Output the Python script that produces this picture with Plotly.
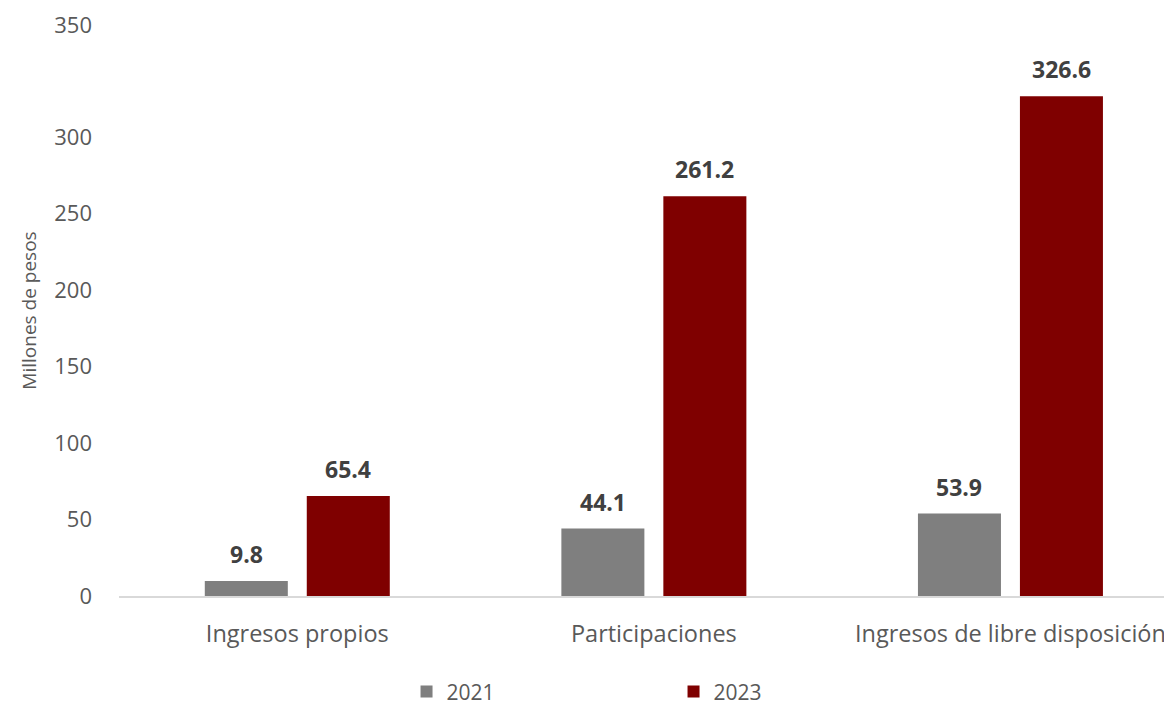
import plotly.graph_objects as go

categories = ["Ingresos propios", "Participaciones", "Ingresos de libre disposición"]
series_names = ["2021", "2023"]
values_2021 = [9.8, 44.1, 53.9]
values_2023 = [65.4, 261.2, 326.6]
y_tick_values = [0, 50, 100, 150, 200, 250, 300]
y_tick_labels = ["0", "50", "100", "150", "200", "250", "300"]

colors = ["#7f7f7f", "#7f0000"]
FONT = "Open Sans"

W, H = 1172, 706
ML, MR, MT, MB = 111, 0, 17, 118
X_RANGE = [-0.5, 2.4755]
Y_TOP = 373.2  # axis top, where the "350" label sits in the reference
BARGAP, BARGROUPGAP = 0.428, 0.186

fig = go.Figure()
for name, vals, col in zip(series_names, [values_2021, values_2023], colors):
    fig.add_trace(go.Bar(x=categories, y=vals, name=name, marker_color=col,
                         marker_line_width=0))

# data labels
cat_px = (W - ML - MR) / (X_RANGE[1] - X_RANGE[0])
slot = cat_px * (1 - BARGAP) / 2
for j, vals in enumerate([values_2021, values_2023]):
    for c, v in zip(categories, vals):
        fig.add_annotation(x=c, y=v, text=f"<b>{v:.1f}</b>", showarrow=False,
                           xshift=(j - 0.5) * slot, yshift=27, yanchor="middle",
                           font=dict(family=FONT, size=23, color="#404040"))

fig.update_layout(
    width=W, height=H,
    margin=dict(l=ML, r=MR, t=MT, b=MB, autoexpand=False),
    paper_bgcolor="white", plot_bgcolor="white",
    barmode="group", bargap=BARGAP, bargroupgap=BARGROUPGAP,
    font=dict(family=FONT, color="#595959"),
    legend=dict(orientation="h", x=0.271, xanchor="left", y=-0.168, yanchor="middle",
                font=dict(family=FONT, size=21, color="#595959"),
                entrywidth=222, entrywidthmode="pixels"),
    xaxis=dict(range=X_RANGE, showline=True, linecolor="#d9d9d9", linewidth=1.5,
               showgrid=False, ticks="", ticklabelstandoff=16, automargin=False,
               tickfont=dict(family=FONT, size=23.5, color="#595959")),
    yaxis=dict(range=[0, Y_TOP], showgrid=False, zeroline=False, showline=False,
               tickvals=y_tick_values + [Y_TOP], ticktext=y_tick_labels + ["350"],
               ticks="", ticklabelstandoff=26, automargin=False,
               tickfont=dict(family=FONT, size=22, color="#595959"),
               title=dict(text="Millones de pesos", standoff=12,
                          font=dict(family=FONT, size=19, color="#595959"))),
)

fig.write_html("out.html")
